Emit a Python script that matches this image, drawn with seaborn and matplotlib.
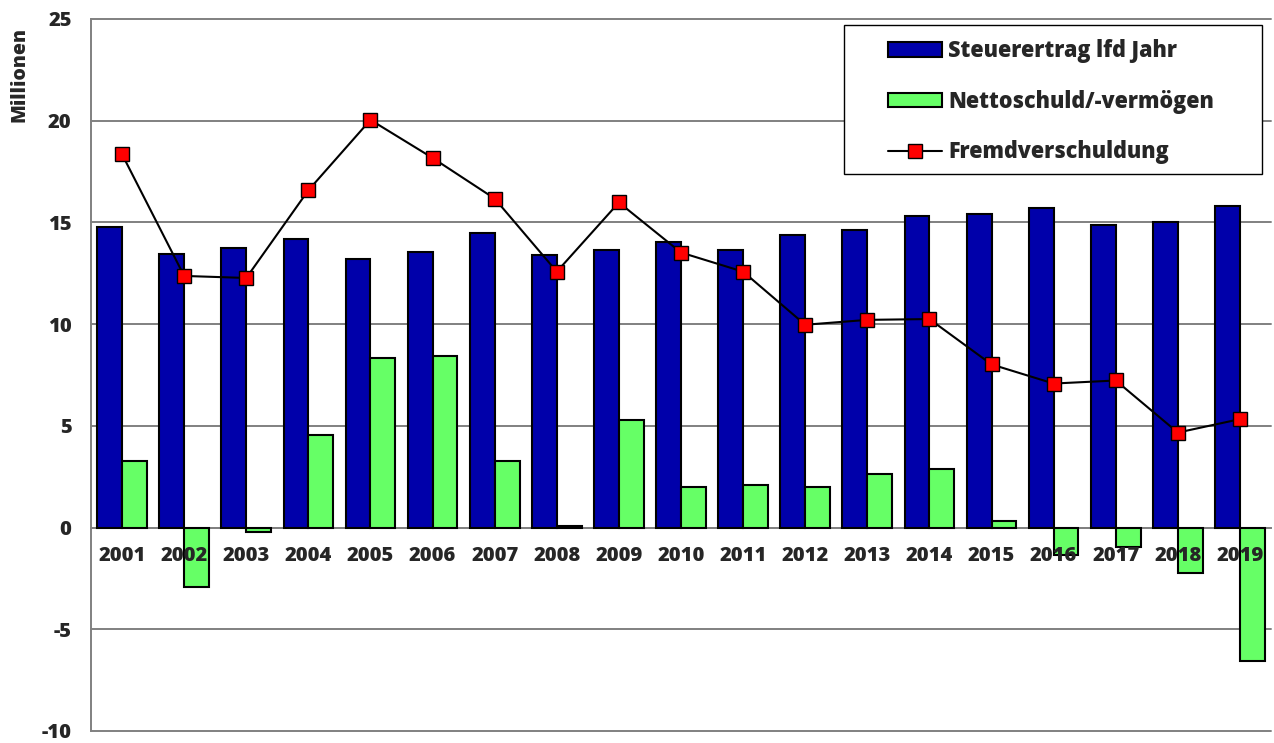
import numpy as np
import pandas as pd
import seaborn as sns
import matplotlib.pyplot as plt
from matplotlib.patches import Patch, Rectangle
from matplotlib.lines import Line2D

jahre = [str(j) for j in range(2001, 2020)]
steuerertrag = [14.79, 13.45, 13.74, 14.18, 13.20, 13.56, 14.48, 13.40, 13.64, 14.04,
                13.66, 14.38, 14.64, 15.31, 15.41, 15.72, 14.87, 15.02, 15.80]
nettoschuld = [3.25, -2.93, -0.22, 4.57, 8.32, 8.41, 3.25, 0.10, 5.30, 1.97,
               2.07, 1.97, 2.61, 2.90, 0.34, -1.35, -0.95, -2.23, -6.56]
fremdverschuldung = [18.35, 12.37, 12.27, 16.58, 20.04, 18.17, 16.17, 12.58, 15.98, 13.52,
                     12.58, 9.97, 10.21, 10.25, 8.02, 7.08, 7.23, 4.67, 5.33]

reihen = ['Steuerertrag lfd Jahr', 'Nettoschuld/-vermögen']
linie_name = 'Fremdverschuldung'
farben = ['#0000aa', '#66ff66']
grau = '#808080'
gewicht = 'heavy'

sns.set_style('white')
plt.rcParams['font.family'] = ['Open Sans', 'DejaVu Sans']
plt.rcParams['font.weight'] = gewicht
plt.rcParams['axes.unicode_minus'] = False

df = pd.DataFrame({
    'Jahr': jahre * 2,
    'Wert': steuerertrag + nettoschuld,
    'Reihe': [reihen[0]] * len(jahre) + [reihen[1]] * len(jahre),
})

fig = plt.figure(figsize=(12.74, 7.43), dpi=100)
ax = fig.add_axes([91 / 1274, 12 / 743, 1180 / 1274, 712 / 743])

sns.barplot(data=df, x='Jahr', y='Wert', hue='Reihe', palette=farben, saturation=1,
            edgecolor='black', linewidth=1.5, width=0.8, legend=False, ax=ax)
sns.pointplot(x=jahre, y=fremdverschuldung, color='black', markers='s', linestyles='-',
              linewidth=1.5, markersize=9.5, markerfacecolor='red', markeredgecolor='black',
              markeredgewidth=1.0, errorbar=None, ax=ax)

ax.set_xlim(-0.5, len(jahre) - 0.5)
ax.set_ylim(-10, 25)
ax.set_yticks(np.arange(-10, 26, 5))
ax.set_yticks(np.arange(-10, 26, 1), minor=True)
ax.set_xticks(np.arange(-0.5, len(jahre), 1), minor=True)
ax.set_xlabel('')
ax.set_ylabel('')

ax.set_axisbelow(True)
ax.grid(axis='y', which='major', color=grau, linewidth=1.4)
ax.grid(axis='x', visible=False)
for gl in ax.get_ygridlines():
    gl.set_clip_on(False)
# year labels sit on top of the bars, grid stays behind
ax.xaxis.set_zorder(3)

for s in ['top', 'right']:
    ax.spines[s].set_visible(False)
ax.spines['left'].set_color(grau)
ax.spines['left'].set_linewidth(1.4)
ax.spines['bottom'].set_position(('data', 0))
ax.spines['bottom'].set_color(grau)
ax.spines['bottom'].set_linewidth(1.4)
ax.spines['bottom'].set_zorder(0.8)

ax.tick_params(axis='y', which='major', direction='in', length=6, color=grau,
               labelsize=14.5, pad=14)
ax.tick_params(axis='y', which='minor', direction='in', length=6, color=grau, width=1)
ax.tick_params(axis='x', which='major', length=0, labelsize=14.5, pad=13)
ax.tick_params(axis='x', which='minor', direction='inout', length=12, color=grau, width=1)
for t in ax.get_xticklabels() + ax.get_yticklabels():
    t.set_fontweight(gewicht)

fig.text(20 / 1274, 1 - 74 / 743, 'Millionen', rotation=90, ha='center', va='center',
         fontsize=14, fontweight=gewicht)

# legend frame + entries
rahmen = Rectangle((0.6381, 0.7823), 0.3542, 0.2093, transform=ax.transAxes,
                   facecolor='white', edgecolor='black', linewidth=1, zorder=4, clip_on=False)
ax.add_patch(rahmen)
handles = [
    Patch(facecolor=farben[0], edgecolor='black', linewidth=1.5),
    Patch(facecolor=farben[1], edgecolor='black', linewidth=1.5),
    Line2D([], [], color='black', linewidth=1.5, marker='s', markersize=9.5,
           markerfacecolor='red', markeredgecolor='black', markeredgewidth=1.0),
]
leg = ax.legend(handles, reihen + [linie_name], loc='upper left',
                bbox_to_anchor=(0.6754, 0.9719), frameon=False, borderpad=0,
                borderaxespad=0, prop={'size': 15.5, 'weight': gewicht},
                handlelength=2.5, handleheight=0.67, handletextpad=0.3, labelspacing=1.24)
leg.set_zorder(5)

fig.savefig('out.png', dpi=100)
